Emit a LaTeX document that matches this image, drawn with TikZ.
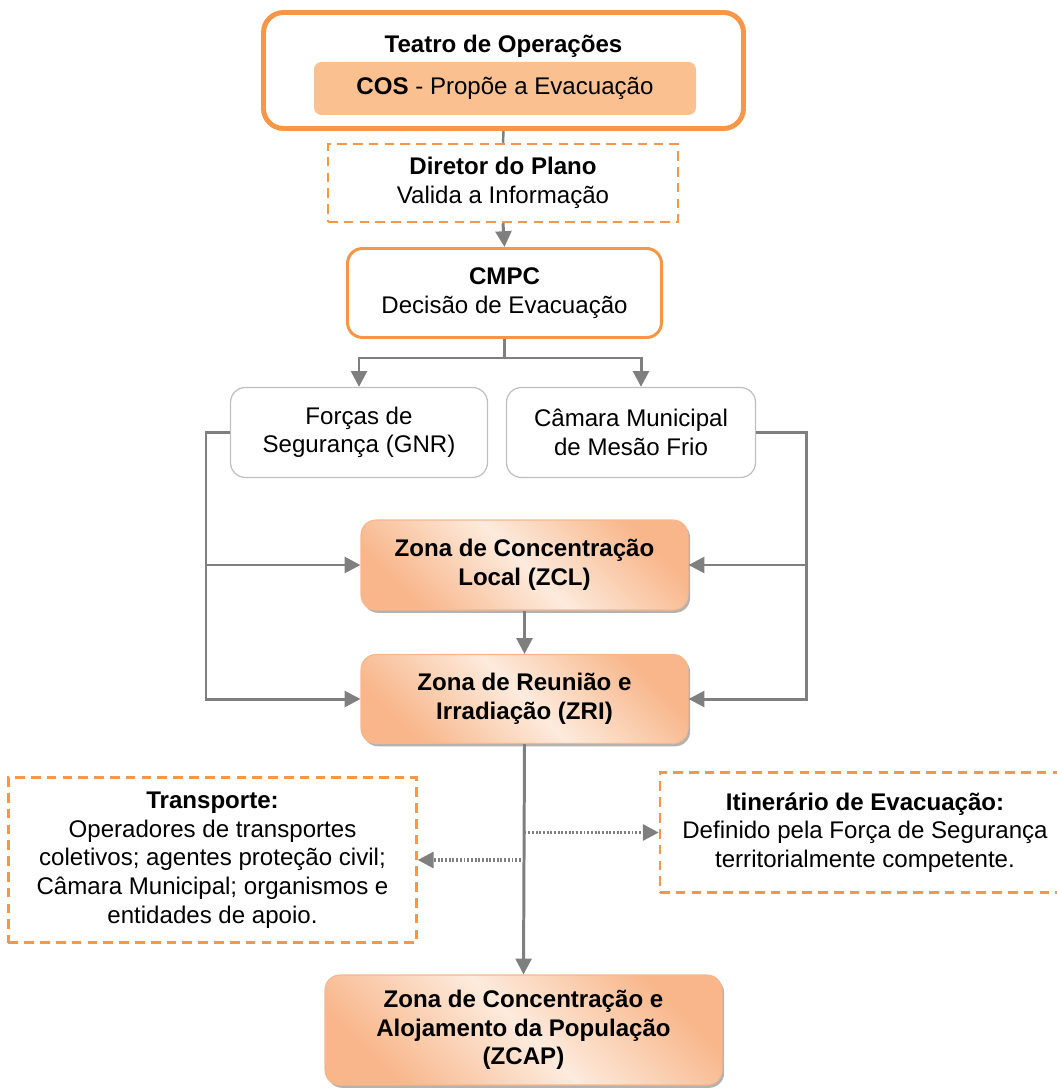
\documentclass[tikz,border=0pt]{standalone}
\usepackage{fontspec}
\setmainfont{Liberation Sans}
\usetikzlibrary{arrows.meta,shadows}

\definecolor{laranja}{HTML}{F79646}
\definecolor{laranjaclaro}{HTML}{FAC090}
\definecolor{zonaescura}{HTML}{F8B68A}
\definecolor{zonaclara}{HTML}{FDEBDD}
\definecolor{cinza}{HTML}{7F7F7F}
\definecolor{bordacinza}{HTML}{BFBFBF}

\begin{document}
\begin{tikzpicture}[
	font=\fontsize{13.7}{16.3}\selectfont,
	caixa/.style={draw=laranja, line width=1.7pt, rounded corners=0.3cm, align=center, inner sep=0pt},
	tracejada/.style={draw=laranja, line width=1.4pt, dash pattern=on 5.5pt off 3.5pt, align=center, inner sep=0pt},
	branca/.style={draw=bordacinza, line width=0.7pt, rounded corners=0.3cm, align=center, inner sep=0pt},
	zona/.style={draw=zonaescura, line width=0.6pt, rounded corners=0.3cm, align=center, inner sep=0pt,
		font=\fontsize{13.7}{16.3}\selectfont\bfseries,
		left color=zonaescura, right color=zonaescura, middle color=zonaclara, shading angle=135,
		drop shadow={shadow xshift=1.2pt, shadow yshift=-1.6pt, fill=black!30, opacity=1}},
	seta/.style={draw=cinza, line width=1.7pt, -{Triangle[width=9pt,length=9pt]}},
	linha/.style={draw=cinza, line width=1.4pt},
	pontilhada/.style={draw=cinza, line width=1.8pt, dash pattern=on 1.1pt off 1pt, -{Triangle[width=9pt,length=9pt]}}
]
	\useasboundingbox (0,0) rectangle (21.14,-21.8);
	\begin{scope}
		\node[draw=laranja, line width=2.8pt, rounded corners=0.4cm, minimum width=9.6cm, minimum height=2.32cm] (teatro) at (10.07,-1.41) {};
		\node (titulo) at (10.07,-0.92) {\textbf{Teatro de Operações}};
		\node[fill=laranjaclaro, rounded corners=0.15cm, minimum width=7.64cm, minimum height=1.06cm] (cos) at (10.1,-1.77) {\textbf{COS} - Propõe a Evacuação};

		\node[tracejada, minimum width=7.0cm, minimum height=1.56cm] (diretor) at (10.06,-3.66) {\textbf{Diretor do Plano}\\Valida a Informação};
		\node[caixa, minimum width=6.28cm, minimum height=1.78cm] (cmpc) at (10.09,-5.86) {\textbf{CMPC}\\Decisão de Evacuação};

		\node[branca, minimum width=5.14cm, minimum height=1.8cm] (forcas) at (7.18,-8.65) {Forças de\\Segurança (GNR)};
		\node[branca, minimum width=4.98cm, minimum height=1.8cm] (camara) at (12.62,-8.65) {Câmara Municipal\\de Mesão Frio};

		\node[zona, minimum width=6.54cm, minimum height=1.8cm] (zcl) at (10.49,-11.3) {Zona de Concentração\\Local (ZCL)};
		\node[zona, minimum width=6.54cm, minimum height=1.78cm] (zri) at (10.49,-13.98) {Zona de Reunião e\\Irradiação (ZRI)};
		\node[zona, minimum width=7.94cm, minimum height=2.2cm] (zcap) at (10.47,-20.6) {Zona de Concentração e\\Alojamento da População\\(ZCAP)};

		\node[tracejada, minimum width=8.16cm, minimum height=3.3cm] (transporte) at (4.25,-17.2) {\textbf{Transporte:}\\Operadores de transportes\\coletivos; agentes proteção civil;\\Câmara Municipal; organismos e\\entidades de apoio.};
		\node[tracejada, minimum width=8.2cm, minimum height=2.4cm] (itinerario) at (17.3,-16.65) {\textbf{Itinerário de Evacuação:}\\Definido pela Força de Segurança\\territorialmente competente.};

		\coordinate (barraesq) at (4.12,-8.65);
		\coordinate (barradir) at (16.12,-8.65);

		\draw[linha] (teatro.south) -- (diretor.north); % da teatro a diretor
		\draw[seta] (diretor.south) -- (cmpc.north); % da diretor a cmpc
		\draw[seta] (cmpc.south) -- ++(0,-0.38) -| (forcas.north); % da cmpc a forcas
		\draw[seta] (cmpc.south) -- ++(0,-0.38) -| ([xshift=0.2cm]camara.north); % da cmpc a camara
		\draw[seta] (forcas.west) -- (barraesq) |- (zri.west); % da forcas a zri
		\draw[seta] (barraesq) |- (zcl.west); % da forcas a zcl
		\draw[seta] (camara.east) -- (barradir) |- (zri.east); % da camara a zri
		\draw[seta] (barradir) |- (zcl.east); % da camara a zcl
		\draw[seta] (zcl.south) -- (zri.north); % da zcl a zri
		\draw[seta] (zri.south) -- (zcap.north); % da zri a zcap
		\draw[pontilhada] (zri.south |- itinerario.west) -- (itinerario.west); % verso itinerario
		\draw[pontilhada] (zri.south |- transporte.east) -- (transporte.east); % verso transporte
	\end{scope}
\end{tikzpicture}
\end{document}
